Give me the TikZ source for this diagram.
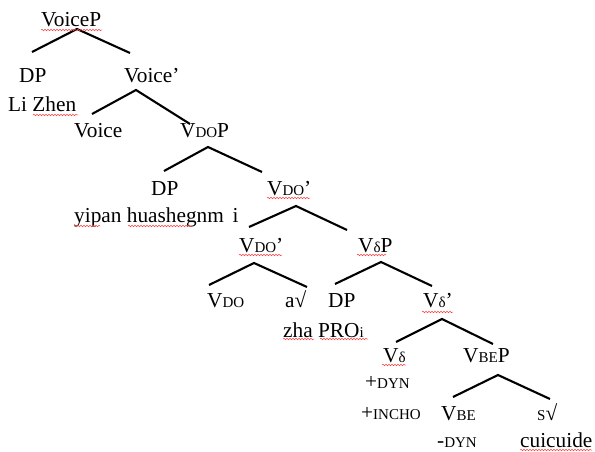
\documentclass[tikz,border=0pt]{standalone}
\usepackage{fontspec}
\setmainfont{Liberation Serif}
\usetikzlibrary{decorations.pathmorphing}
\newcommand\smc[1]{{\fontsize{15}{15}\selectfont #1}}
\begin{document}
\begin{tikzpicture}[x=1pt,y=-1pt,
  lab/.style={anchor=base west,inner sep=0pt,font=\fontsize{21.3}{21.3}\selectfont},
  branch/.style={line width=2.1pt,line join=miter},
  wavy/.style={draw=red!75,line width=0.5pt,decorate,decoration={snake,segment length=3pt,amplitude=0.8pt}}]
\useasboundingbox (0,0) rectangle (595,452);
% labels
\node[lab] (voicep) at (41,27) {VoiceP};
\node[lab] (dp1) at (19,83) {DP};
\node[lab] (lizhen) at (8,112) {Li Zhen};
\node[lab] (voicebar) at (124,83) {Voice’};
\node[lab] (voice) at (74,138) {Voice};
\node[lab] (vdop) at (180,138) {V\smc{DO}P};
\node[lab] (dp2) at (151,195) {DP};
\node[lab] (yipan) at (74,222) {yipan huashegnm \,i};
\node[lab] (vdobar1) at (267,195) {V\smc{DO}’};
\node[lab] (vdobar2) at (239,252) {V\smc{DO}’};
\node[lab] (vdp) at (358,252) {V\smc{δ}P};
\node[lab] (vdo) at (207,307) {V\smc{DO}};
\node[lab] (aroot) at (285,307) {a√};
\node[lab] (dp3) at (328,307) {DP};
\node[lab] (vdbar) at (423,307) {V\smc{δ}’};
\node[lab] (zha) at (283,337) {zha PRO\smc{i}};
\node[lab] (vd) at (383,362) {V\smc{δ}};
\node[lab] (vbep) at (463,362) {V\smc{BE}P};
\node[lab] (dyn) at (365,388) {+\smc{DYN}};
\node[lab] (incho) at (361,419) {+\smc{INCHO}};
\node[lab] (vbe) at (441,420) {V\smc{BE}};
\node[lab] (sroot) at (537,420) {\smc{S}√};
\node[lab] (mdyn) at (437,447) {-\smc{DYN}};
\node[lab] (cuic) at (520,447) {cuicuide};
% branch points
\coordinate (b1a) at (77,29);  \coordinate (b1l) at (32,52);  \coordinate (b1r) at (130,53);
\coordinate (b2a) at (136,90); \coordinate (b2l) at (92,114); \coordinate (b2r) at (190,124);
\coordinate (b3a) at (208,147);\coordinate (b3l) at (164,171);\coordinate (b3r) at (262,172);
\coordinate (b4a) at (296,206);\coordinate (b4l) at (249,227);\coordinate (b4r) at (347,230);
\coordinate (b5a) at (254,263);\coordinate (b5l) at (209,285);\coordinate (b5r) at (307,287);
\coordinate (b6a) at (381,262);\coordinate (b6l) at (335,284);\coordinate (b6r) at (432,286);
\coordinate (b7a) at (442,319);\coordinate (b7l) at (396,342);\coordinate (b7r) at (493,344);
\coordinate (b8a) at (498,375);\coordinate (b8l) at (453,397);\coordinate (b8r) at (550,399);
\foreach \b in {b1,b2,b3,b4,b5,b6,b7,b8}
  \draw[branch] (\b l) -- (\b a) -- (\b r);
% spell-check underlines
\draw[wavy] (41,30) -- (102,30);
\draw[wavy] (33,115) -- (78,115);
\draw[wavy] (267,198) -- (310,198);
\draw[wavy] (74,226) -- (100,226);
\draw[wavy] (128,226) -- (192,226);
\draw[wavy] (239,255) -- (282,255);
\draw[wavy] (357,255) -- (386,255);
\draw[wavy] (422,312) -- (453,312);
\draw[wavy] (283,339) -- (314,339);
\draw[wavy] (320,339) -- (368,339);
\draw[wavy] (382,365) -- (406,365);
\draw[wavy] (520,450) -- (592,450);
\end{tikzpicture}
\end{document}
